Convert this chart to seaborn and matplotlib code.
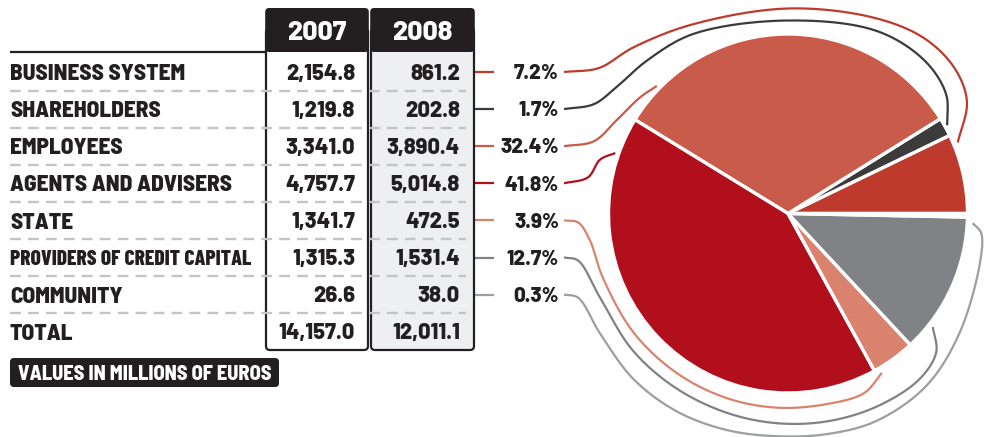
import numpy as np
import matplotlib
matplotlib.use("Agg")
import matplotlib.pyplot as plt
from matplotlib.patches import FancyBboxPatch
from matplotlib import font_manager as fm
from matplotlib.font_manager import FontProperties
from matplotlib.textpath import TextPath
import seaborn as sns

# ---------------- data ----------------
categories = ["BUSINESS SYSTEM", "SHAREHOLDERS", "EMPLOYEES", "AGENTS AND ADVISERS",
              "STATE", "PROVIDERS OF CREDIT CAPITAL", "COMMUNITY"]
values_2007 = [2154.8, 1219.8, 3341.0, 4757.7, 1341.7, 1315.3, 26.6]
values_2008 = [861.2, 202.8, 3890.4, 5014.8, 472.5, 1531.4, 38.0]
shares_2008 = [7.2, 1.7, 32.4, 41.8, 3.9, 12.7, 0.3]
total_label = "TOTAL"
total_2007 = 14157.0
total_2008 = 12011.1
years = ["2007", "2008"]
note = "VALUES IN MILLIONS OF EUROS"

# ---------------- style ----------------
sns.set_theme(style="white")
names = {f.name for f in fm.fontManager.ttflist}
def pick(*cands):
    for c in cands:
        if c in names:
            return c
    return "DejaVu Sans"
COND = pick("Barlow Semi Condensed", "Fira Sans Condensed", "Archivo Narrow", "Liberation Sans")
COND2 = pick("Barlow Condensed", "Fira Sans Extra Condensed", COND)
NUM = pick("Barlow", "Fira Sans", "Liberation Sans")
plt.rcParams["font.family"] = [NUM, "DejaVu Sans"]
WT = 800

palette = sns.color_palette(["#BE3A2C", "#3B3B3B", "#C85B49", "#B20F1D",
                             "#D9836F", "#818285", "#9D9EA2"])
INK = "#231F20"

W, H = 984, 437
fig = plt.figure(figsize=(W / 100, H / 100), dpi=100)
ax = fig.add_axes([0, 0, 1, 1])

# layout (pixels)
row0, row_step = 72, 37.1
rows = [row0 + i * row_step for i in range(len(categories) + 1)]
col07 = (266, 368)
col08 = (371, 474)
head_top, head_bot, col_bot = 8, 52, 350
cx, cy, R = 788, 213.5, 179.5


def ink(s, family, size, weight=WT):
    tp = TextPath((0, 0), s, size=size, prop=FontProperties(family=family, weight=weight))
    e = tp.get_extents()
    return e.width * 100 / 72, e.height * 100 / 72


def fit(s, family, target_px, weight=WT):
    w, _ = ink(s, family, 10, weight)
    return 10 * target_px / w


def put(x, y, s, size, family, ha="left", color=INK, z=10, weight=WT):
    _, cap = ink("H", family, size, weight)
    ax.text(x, y + cap / 2, s, fontsize=size, fontfamily=[family, "DejaVu Sans"],
            fontweight=weight, ha=ha, va="baseline", color=color, zorder=z)


lab_size = fit("BUSINESS SYSTEM", COND, 173)
lab_small = fit("PROVIDERS OF CREDIT CAPITAL", COND2, 240)
num_size = fit("2,154.8", NUM, 68)
pct_size = fit("32.4%", NUM, 57)
head_size = fit("2007", NUM, 58)
note_size = fit(note, COND, 252)

# ---- columns ----
for (x0, x1), fill in zip([col07, col08], ["white", "#EEEFF1"]):
    body = FancyBboxPatch((x0, head_top + 20), x1 - x0, col_bot - head_top - 20,
                          boxstyle="round,pad=0,rounding_size=4",
                          fc=fill, ec=INK, lw=1.6, zorder=2)
    ax.add_patch(body)
    head = FancyBboxPatch((x0 - 0.8, head_top), x1 - x0 + 1.6, head_bot - head_top,
                          boxstyle="round,pad=0,rounding_size=4",
                          fc=INK, ec="none", zorder=4)
    ax.add_patch(head)

for (x0, x1), yr in zip([col07, col08], years):
    put((x0 + x1) / 2, 30.5, yr, head_size, NUM, ha="center", color="white", z=6)

# top rule
ax.plot([10, col07[0]], [head_bot, head_bot], color=INK, lw=1.6, zorder=5,
        solid_capstyle="butt")

# dashed separators
for i in range(len(categories)):
    y = rows[i] + 18.5
    ax.plot([10, 466], [y, y], color="#C4C4C4", lw=1.7, ls=(0, (4.6, 3.0)),
            zorder=3, dash_capstyle="butt")

# labels and values
for i, cat in enumerate(categories):
    if len(cat) > 22:
        put(10, rows[i], cat, lab_small, COND2)
    else:
        put(10, rows[i], cat, lab_size, COND)
    put(355, rows[i], f"{values_2007[i]:,.1f}", num_size, NUM, ha="right")
    put(460, rows[i], f"{values_2008[i]:,.1f}", num_size, NUM, ha="right")
    put(559, rows[i], f"{shares_2008[i]:.1f}%", pct_size, NUM, ha="right")
    wtxt, _ = ink(f"{shares_2008[i]:.1f}%", NUM, pct_size)
    x_end = min(494, 559 - wtxt - 2)
    ax.plot([463, x_end], [rows[i], rows[i]], color=palette[i], lw=1.6, zorder=1.5,
            solid_capstyle="butt")

put(10, rows[-1], total_label, lab_size, COND)
put(355, rows[-1], f"{total_2007:,.1f}", num_size, NUM, ha="right")
put(460, rows[-1], f"{total_2008:,.1f}", num_size, NUM, ha="right")

# note box
nb = FancyBboxPatch((10, 358), 269, 29, boxstyle="round,pad=0,rounding_size=4",
                    fc=INK, ec="none", zorder=4)
ax.add_patch(nb)
put(144.5, 372.5, note, note_size, COND, ha="center", color="white", z=6)

# ---- pie ----
ax.pie(values_2008, colors=palette, startangle=0, counterclock=False,
       center=(cx, cy), radius=R,
       wedgeprops=dict(edgecolor="white", linewidth=2.4))

# ---- connectors ----
def polar(th, r):
    t = np.deg2rad(th)
    return (cx + r * np.cos(t), cy - r * np.sin(t))


def catmull_rom(points, n=24, alpha=0.5):
    P = np.array(points, float)
    P = np.vstack([2 * P[0] - P[1], P, 2 * P[-1] - P[-2]])
    out = []
    for i in range(1, len(P) - 2):
        p0, p1, p2, p3 = P[i - 1], P[i], P[i + 1], P[i + 2]
        t0 = 0.0
        t1 = t0 + max(np.linalg.norm(p1 - p0), 1e-6) ** alpha
        t2 = t1 + max(np.linalg.norm(p2 - p1), 1e-6) ** alpha
        t3 = t2 + max(np.linalg.norm(p3 - p2), 1e-6) ** alpha
        t = np.linspace(t1, t2, n)[:, None]
        A1 = (t1 - t) / (t1 - t0) * p0 + (t - t0) / (t1 - t0) * p1
        A2 = (t2 - t) / (t2 - t1) * p1 + (t - t1) / (t2 - t1) * p2
        A3 = (t3 - t) / (t3 - t2) * p2 + (t - t2) / (t3 - t2) * p3
        B1 = (t2 - t) / (t2 - t0) * A1 + (t - t0) / (t2 - t0) * A2
        B2 = (t3 - t) / (t3 - t1) * A2 + (t - t1) / (t3 - t1) * A3
        C = (t2 - t) / (t2 - t1) * B1 + (t - t1) / (t2 - t1) * B2
        out.append(C)
    return np.vstack(out)


# (stub dx, stub dy, [(angle, radius), ...]) per category
connector_paths = [
    (35, -4, [(133, 227), (117, 212), (90, 205), (66, 214), (52, 222), (41, 221),
              (32, 211), (22.7, 184)]),
    (30, -5, [(143.5, 213), (132.6, 208), (117.8, 203), (90, 193), (64, 203),
              (48, 205), (37, 198), (29, 182)]),
    (30, -5, [(151.3, 195), (141.8, 188), (135.8, 183)]),
    (24, -6, [(164, 195.5), (160.7, 183)]),
    (14, 2, [(187.6, 200), (199, 196), (217.6, 195), (235.2, 194.5), (251.6, 194.5),
             (266.8, 194.5), (281.6, 194.5), (293, 195), (300.5, 185)]),
    (14, 3, [(204, 206), (221.4, 207), (237.4, 207.5), (253, 208.5), (267, 210),
             (280.6, 211.5), (294.7, 212.5), (308.4, 211.5), (316.9, 203), (321.9, 184)]),
    (14, 3, [(212.4, 223), (227, 226.5), (240.9, 227), (254.3, 225), (267.2, 223),
             (280, 224), (293, 225.5), (308.7, 221), (325.2, 209), (346.4, 198),
             (354.3, 194), (357, 185)]),
]

for i, (sdx, sdy, pts) in enumerate(connector_paths):
    start = (564, rows[i])
    stub = (564 + sdx, rows[i] + sdy)
    way = [start, stub] + [polar(a, r) for a, r in pts]
    curve = catmull_rom(way)
    ax.plot(curve[:, 0], curve[:, 1], color=palette[i], lw=1.6, zorder=1,
            solid_capstyle="butt")

ax.set_xlim(0, W)
ax.set_ylim(H, 0)
ax.set_aspect("equal")
ax.axis("off")
fig.savefig("out.png", dpi=100, facecolor="white")
